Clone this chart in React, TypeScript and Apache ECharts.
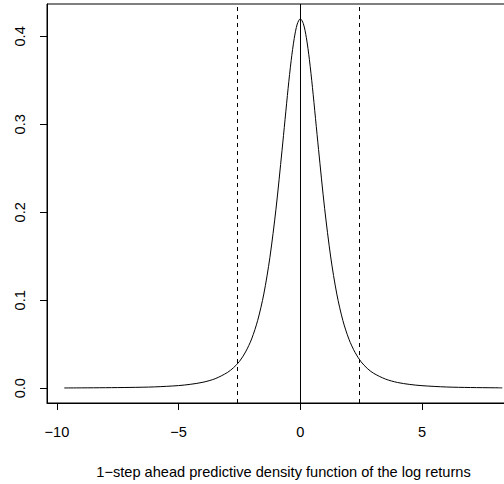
import React, { useEffect, useRef } from "react";
import * as echarts from "echarts";

const densityX = [-9.7, -9, -8, -7, -6, -5, -4.5, -4, -3.5, -3, -2.75, -2.5, -2.25, -2, -1.75, -1.5, -1.25, -1, -0.75, -0.5, -0.375, -0.25, -0.125, 0, 0.125, 0.25, 0.375, 0.5, 0.75, 1, 1.25, 1.5, 1.75, 2, 2.25, 2.5, 2.75, 3, 3.5, 4, 4.5, 5, 6, 7, 8, 8.3];
const densityY = [0.0003, 0.0004, 0.0006, 0.0009, 0.0015, 0.003, 0.0045, 0.0068, 0.0108, 0.0178, 0.0232, 0.0305, 0.0412, 0.056, 0.0772, 0.107, 0.1485, 0.2035, 0.2705, 0.341, 0.3725, 0.3975, 0.414, 0.42, 0.4145, 0.3985, 0.3735, 0.342, 0.2715, 0.2045, 0.1492, 0.1072, 0.077, 0.0557, 0.0407, 0.03, 0.0226, 0.0172, 0.0104, 0.0065, 0.0043, 0.0029, 0.0014, 0.0008, 0.0005, 0.0004];
const solidLineX = [0];
const dashedLinesX = [-2.586, 2.42];
const xTicks = [-10, -5, 0, 5];
const yTicks = [0, 0.1, 0.2, 0.3, 0.4];
const xTitle = "1−step ahead predictive density function of the log returns";

const FONT = "'Liberation Sans', Arial, Helvetica, sans-serif";
const FS = 14.6;

export default function App() {
  const ref = useRef<HTMLDivElement>(null);
  useEffect(() => {
    document.body.style.margin = "0";
    const chart = echarts.init(ref.current!, null, { renderer: "svg" });
    const fmt = (v: number) => String(v).replace("-", "−");
    const fmtY = (v: number) => v.toFixed(1);
    chart.setOption({
      animation: false,
      backgroundColor: "#ffffff",
      grid: {
        left: 47, top: 4, right: -16, bottom: 81,
        outerBoundsMode: "none", containLabel: false,
        show: true, borderColor: "#000", borderWidth: 1, backgroundColor: "transparent",
      },
      xAxis: {
        type: "value",
        min: -10.41,
        max: 9.03,
        axisLine: { show: true, onZero: false, lineStyle: { color: "#000", width: 1 } },
        axisTick: { show: true, length: 7, customValues: xTicks, lineStyle: { color: "#000" } },
        axisLabel: { customValues: xTicks, formatter: fmt, color: "#000", fontSize: FS, fontFamily: FONT, margin: 21 },
        splitLine: { show: false },
        name: xTitle,
        nameLocation: "middle",
        nameGap: 61,
        nameTextStyle: { color: "#000", fontSize: FS, fontFamily: FONT },
      },
      yAxis: {
        type: "value",
        min: -0.0168,
        max: 0.4368,
        axisLine: { show: true, onZero: false, lineStyle: { color: "#000", width: 1 } },
        axisTick: { show: true, length: 7, customValues: yTicks, lineStyle: { color: "#000" } },
        axisLabel: { customValues: yTicks, formatter: fmtY, rotate: 90, color: "#000", fontSize: FS, fontFamily: FONT, margin: 20 },
        splitLine: { show: false },
      },
      series: [
        {
          type: "line",
          data: densityX.map((x, i) => [x, densityY[i]]),
          showSymbol: false,
          smooth: 0.3,
          lineStyle: { color: "#000", width: 1 },
          silent: true,
          markLine: {
            silent: true,
            symbol: "none",
            label: { show: false },
            data: [
              ...solidLineX.map((x) => ({ xAxis: x, lineStyle: { type: "solid", color: "#000", width: 1 } })),
              ...dashedLinesX.map((x) => ({ xAxis: x, lineStyle: { type: [4, 4], color: "#000", width: 1 } })),
            ],
          },
        },
      ],
    });
    return () => chart.dispose();
  }, []);
  return <div ref={ref} style={{ width: 504, height: 484, position: "absolute", left: 0, top: 0, background: "#fff" }} />;
}
